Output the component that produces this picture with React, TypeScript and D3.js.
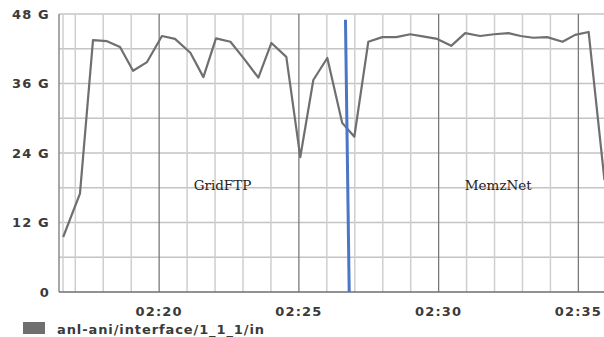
import React, { useRef, useEffect } from 'react';
import * as d3 from 'd3';

// sample times (hh:mm:ss) and throughput in G
const times = [
  '02:16:34', '02:17:10', '02:17:38', '02:18:08', '02:18:36', '02:19:04', '02:19:34',
  '02:20:06', '02:20:34', '02:21:07', '02:21:35', '02:22:02', '02:22:33', '02:23:05',
  '02:23:33', '02:24:01', '02:24:33', '02:25:03', '02:25:31', '02:26:01', '02:26:33',
  '02:26:59', '02:27:29', '02:27:59', '02:28:29', '02:28:59', '02:29:29', '02:29:57',
  '02:30:27', '02:30:57', '02:31:29', '02:31:59', '02:32:30', '02:32:56', '02:33:23',
  '02:33:53', '02:34:26', '02:34:53', '02:35:22', '02:35:56',
];
const values = [
  9.5, 17, 43.5, 43.3, 42.3, 38.2, 39.7,
  44.2, 43.7, 41.3, 37.1, 43.8, 43.2, 40,
  37, 43, 40.6, 23.3, 36.6, 40.4, 29.2,
  26.8, 43.2, 44, 44, 44.5, 44.1, 43.7,
  42.5, 44.7, 44.2, 44.5, 44.7, 44.2, 43.9,
  44, 43.2, 44.4, 44.9, 19.3,
];
const yTicks = [0, 12, 24, 36, 48];
const xTicks = ['02:20', '02:25', '02:30', '02:35'];
const markerTime = ['02:26:40', '02:26:48']; // blue marker, top -> bottom
const annotations = [
  { label: 'GridFTP', time: '02:22:16', value: 17.6 },
  { label: 'MemzNet', time: '02:32:08', value: 17.6 },
];
const seriesName = 'anl-ani/interface/1_1_1/in';

const parse = d3.timeParse('%H:%M:%S');
const parseHM = d3.timeParse('%H:%M');

const App: React.FC = () => {
  const svgRef = useRef<SVGSVGElement | null>(null);

  useEffect(() => {
    if (!svgRef.current) return;
    const width = 604;
    const height = 337;
    const margin = { top: 14, right: 0, bottom: 45, left: 59 };

    const svg = d3.select(svgRef.current);
    svg.selectAll('*').remove();

    const x = d3.scaleTime()
      .domain([parse('02:16:25') as Date, parse('02:35:55') as Date])
      .range([margin.left, width - margin.right]);
    const y = d3.scaleLinear()
      .domain([0, 48])
      .range([height - margin.bottom, margin.top]);

    const g = svg.append('g');

    // horizontal grid every 6 G
    g.selectAll('line.hgrid')
      .data(d3.range(6, 49, 6))
      .enter().append('line')
      .attr('x1', margin.left).attr('x2', width)
      .attr('y1', d => y(d)).attr('y2', d => y(d))
      .attr('stroke', '#c4c4c4').attr('stroke-width', 1.5);

    // minor vertical grid every minute
    const minutes = d3.timeMinute.range(parse('02:17:00') as Date, parse('02:36:00') as Date);
    g.selectAll('line.vgrid')
      .data(minutes.filter(m => m.getMinutes() % 5 !== 0))
      .enter().append('line')
      .attr('x1', d => x(d)).attr('x2', d => x(d))
      .attr('y1', margin.top).attr('y2', y(0))
      .attr('stroke', '#cfcfcf').attr('stroke-width', 1.5);

    // major vertical grid
    g.selectAll('line.major')
      .data(xTicks)
      .enter().append('line')
      .attr('x1', d => x(parseHM(d) as Date)).attr('x2', d => x(parseHM(d) as Date))
      .attr('y1', margin.top).attr('y2', y(0))
      .attr('stroke', '#7a7a7a').attr('stroke-width', 1.3);

    // inner light line next to axis
    g.append('line')
      .attr('x1', margin.left + 4).attr('x2', margin.left + 4)
      .attr('y1', margin.top).attr('y2', y(0))
      .attr('stroke', '#cfcfcf').attr('stroke-width', 1.5);

    // axes frame
    g.append('line')
      .attr('x1', margin.left).attr('x2', margin.left)
      .attr('y1', margin.top).attr('y2', y(0))
      .attr('stroke', '#8a8a8a').attr('stroke-width', 1.5);
    g.append('line')
      .attr('x1', margin.left).attr('x2', width)
      .attr('y1', y(0)).attr('y2', y(0))
      .attr('stroke', '#6e6e6e').attr('stroke-width', 1.5);

    // y tick labels
    g.selectAll('text.ytick')
      .data(yTicks)
      .enter().append('text')
      .attr('x', 50)
      .attr('y', d => y(d))
      .attr('dy', '0.35em')
      .attr('text-anchor', 'end')
      .attr('font-family', 'DejaVu Sans')
      .attr('font-weight', 'bold')
      .attr('font-size', 13)
      .attr('letter-spacing', 1.2)
      .attr('fill', '#3a3a3a')
      .text(d => (d === 0 ? '0' : `${d} G`));

    // x tick labels
    g.selectAll('text.xtick')
      .data(xTicks)
      .enter().append('text')
      .attr('x', d => x(parseHM(d) as Date))
      .attr('y', y(0) + 24)
      .attr('text-anchor', 'middle')
      .attr('font-family', 'DejaVu Sans')
      .attr('font-weight', 'bold')
      .attr('font-size', 13)
      .attr('letter-spacing', 1.2)
      .attr('fill', '#3a3a3a')
      .text(d => d);

    // series line
    const pts = times.map((t, i) => ({ t: parse(t) as Date, v: values[i] }));
    const line = d3.line<{ t: Date; v: number }>()
      .x(d => x(d.t))
      .y(d => y(d.v));
    g.append('path')
      .datum(pts)
      .attr('d', line)
      .attr('fill', 'none')
      .attr('stroke', '#6f6f6f')
      .attr('stroke-width', 2.2)
      .attr('stroke-linejoin', 'round');

    // blue marker line
    g.append('line')
      .attr('x1', x(parse(markerTime[0]) as Date))
      .attr('x2', x(parse(markerTime[1]) as Date))
      .attr('y1', y(47))
      .attr('y2', y(0))
      .attr('stroke', '#4a76c6')
      .attr('stroke-width', 3);

    // annotations
    g.selectAll('text.ann')
      .data(annotations)
      .enter().append('text')
      .attr('x', d => x(parse(d.time) as Date))
      .attr('y', d => y(d.value))
      .attr('text-anchor', 'middle')
      .attr('font-family', 'DejaVu Serif')
      .attr('font-size', 13.5)
      .attr('fill', '#222')
      .text(d => d.label);

    // legend
    g.append('rect')
      .attr('x', 23).attr('y', 322)
      .attr('width', 22).attr('height', 12)
      .attr('fill', '#6f6f6f');
    g.append('text')
      .attr('x', 57).attr('y', 329)
      .attr('dy', '0.35em')
      .attr('font-family', 'DejaVu Sans')
      .attr('font-weight', 'bold')
      .attr('font-size', 13)
      .attr('letter-spacing', 0.9)
      .attr('fill', '#3a3a3a')
      .text(seriesName);
  }, []);

  return (
    <svg
      ref={svgRef}
      width={604}
      height={337}
      style={{ position: 'absolute', left: 0, top: 0, background: '#fff' }}
    />
  );
};

export default App;
